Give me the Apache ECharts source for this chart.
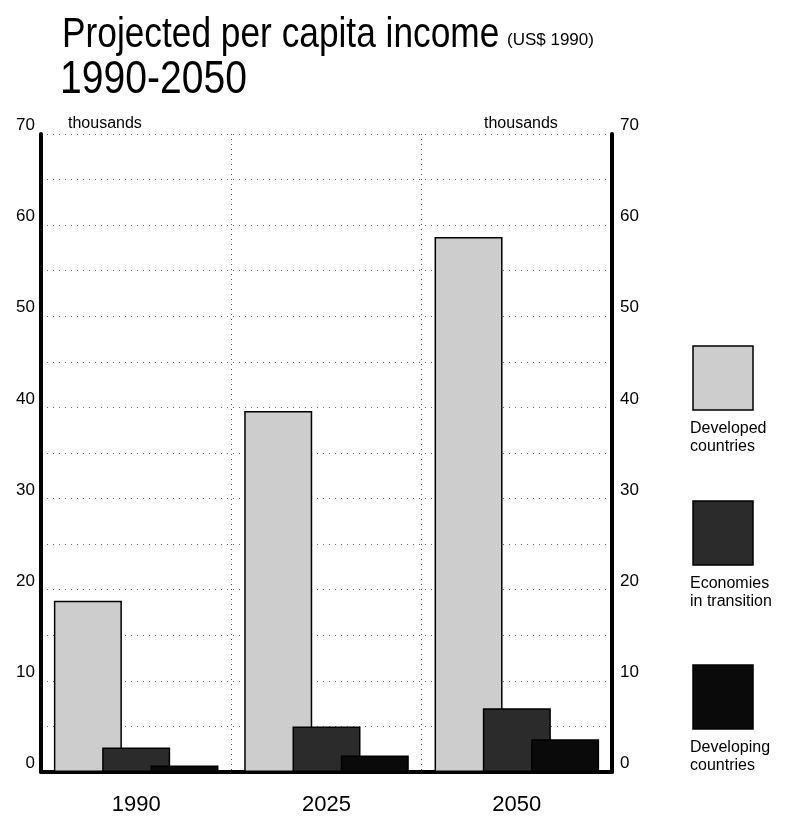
<!DOCTYPE html>
<html>
<head>
<meta charset="utf-8">
<script src="https://cdn.jsdelivr.net/npm/echarts@6/dist/echarts.min.js"></script>
<style>
  html, body { margin: 0; padding: 0; background: #fff; }
  #main { width: 796px; height: 818px; }
</style>
</head>
<body>
<div id="main"></div>
<script>
// categories and values (thousands of US$ 1990)
var years = ["1990", "2025", "2050"];
var developed = [18.8, 39.6, 58.7];
var transition = [2.7, 5.0, 7.0];
var developing = [0.7, 1.8, 3.6];
var seriesNames = ["Developed\ncountries", "Economies\nin transition", "Developing\ncountries"];
var seriesColors = ["#cdcdcd", "#2b2b2b", "#0a0a0a"];

var font = "'Liberation Sans', Arial, sans-serif";

var myChart = echarts.init(document.getElementById("main"));

// legend boxes built from the series names/colours
var legendTops = [346, 501, 665];
var legendGraphics = [];
seriesNames.forEach(function (n, i) {
  legendGraphics.push({
    type: "rect",
    shape: { x: 693, y: legendTops[i], width: 60, height: 64 },
    style: { fill: seriesColors[i], stroke: "#000", lineWidth: 1.5 }
  });
  legendGraphics.push({
    type: "text",
    x: 690,
    y: legendTops[i] + 74,
    style: { text: n, font: "16px " + font, fill: "#000", lineHeight: 18 }
  });
});

var option = {
  backgroundColor: "#fff",
  animation: false,
  grid: { left: 41, right: 184, top: 134, bottom: 46 },
  graphic: [
    {
      // condensed look like the printed title
      type: "text", x: 62, y: 14, scaleX: 0.84,
      style: { text: "Projected per capita income", font: "42px " + font, fill: "#000" }
    },
    {
      type: "text", x: 507, y: 32,
      style: { text: "(US$ 1990)", font: "17px " + font, fill: "#000" }
    },
    {
      type: "text", x: 60, y: 57, scaleX: 0.85,
      style: { text: "1990-2050", font: "46px " + font, fill: "#000" }
    },
    {
      type: "text", x: 68, y: 116,
      style: { text: "thousands", font: "16px " + font, fill: "#000" }
    },
    {
      type: "text", x: 484, y: 116,
      style: { text: "thousands", font: "16px " + font, fill: "#000" }
    }
  ].concat(legendGraphics),
  xAxis: {
    type: "category",
    data: years,
    axisLine: { lineStyle: { color: "#000", width: 4 } },
    axisTick: { show: false },
    axisLabel: { margin: 22, fontSize: 22, fontFamily: font, color: "#000" },
    splitLine: { show: true, lineStyle: { color: "#555", type: [1, 4], width: 1 } }
  },
  yAxis: [
    {
      type: "value", min: 0, max: 70, interval: 5, position: "left",
      axisLine: { show: true, lineStyle: { color: "#000", width: 4 } },
      axisTick: { show: false },
      axisLabel: {
        fontSize: 17, fontFamily: font, color: "#000", margin: 6,
        verticalAlign: "bottom",
        formatter: function (v) { return v % 10 === 0 ? v : ""; }
      },
      splitLine: { show: true, lineStyle: { color: "#666", type: [1, 5], width: 1 } }
    },
    {
      type: "value", min: 0, max: 70, interval: 10, position: "right",
      axisLine: { show: true, lineStyle: { color: "#000", width: 4 } },
      axisTick: { show: false },
      axisLabel: {
        fontSize: 17, fontFamily: font, color: "#000", margin: 8,
        verticalAlign: "bottom"
      },
      splitLine: { show: false }
    }
  ],
  series: [
    {
      name: "Developed countries", type: "bar", data: developed,
      barWidth: 68, barGap: "-29%",
      itemStyle: { color: seriesColors[0], borderColor: "#000", borderWidth: 1.5 }
    },
    {
      name: "Economies in transition", type: "bar", data: transition,
      barWidth: 68, barGap: "-29%",
      itemStyle: { color: seriesColors[1], borderColor: "#000", borderWidth: 1.5 }
    },
    {
      name: "Developing countries", type: "bar", data: developing,
      barWidth: 68, barGap: "-29%",
      itemStyle: { color: seriesColors[2], borderColor: "#000", borderWidth: 1.5 }
    }
  ]
};

myChart.setOption(option);
</script>
</body>
</html>
